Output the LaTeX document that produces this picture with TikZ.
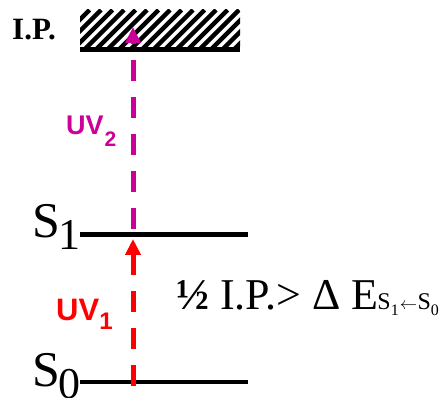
\documentclass[tikz,border=0pt]{standalone}
\usepackage{fontspec}
\setmainfont{Liberation Serif}
\newfontfamily\uvfont{Liberation Sans}
\usetikzlibrary{arrows.meta}
\definecolor{uvred}{RGB}{255,0,0}
\definecolor{uvmag}{RGB}{204,0,153}
\tikzset{
  level/.style={line width=4.5pt},
  uvarrow/.style={line width=5pt, dash pattern=on 21pt off 16pt,
    -{Triangle[width=15pt,length=16pt]}},
  txt/.style={inner sep=0pt, anchor=base west},
  hatchline/.style={line width=4.5pt}
}
\begin{document}
\begin{tikzpicture}[x=1pt,y=-1pt]
\useasboundingbox (0,0) rectangle (445,398);
% coordinates
\coordinate (ipL) at (80,49.5);
\coordinate (ipR) at (240,49.5);
\coordinate (s1L) at (80,234.5);
\coordinate (s1R) at (248,234.5);
\coordinate (s0L) at (80,382);
\coordinate (s0R) at (248,382);
\coordinate (redA) at (133,386);
\coordinate (redB) at (133,239);
\coordinate (magA) at (133,229);
\coordinate (magB) at (133,27);
% hatch
\begin{scope}
\clip (80,10) rectangle (240,47);
\foreach \i in {0,...,20} {
  \draw[hatchline] ({38+\i*11.5},50) -- ({78+\i*11.5},10);
}
\end{scope}
% levels
\draw[level] (ipL) -- (ipR);
\draw[level] (s1L) -- (s1R);
\draw[level] (s0L) -- (s0R);
% arrows
\draw[uvarrow, uvred] (redA) -- (redB);
\draw[uvarrow, uvmag] (magA) -- (magB);
% labels
\node[txt] (iplab) at (12,40) {\fontsize{31}{31}\selectfont\bfseries I.P.};
\node[txt] (s1lab) at (32,238) {\fontsize{50}{50}\selectfont S\kern-2pt\raisebox{-12pt}{\fontsize{44}{44}\selectfont 1}};
\node[txt] (s0lab) at (32,387) {\fontsize{50}{50}\selectfont S\kern-2pt\raisebox{-12pt}{\fontsize{44}{44}\selectfont 0}};
\node[txt, text=uvmag] (uv2) at (66,135) {\uvfont\bfseries\fontsize{27}{27}\selectfont UV\kern1pt\raisebox{-12pt}{\fontsize{21}{21}\selectfont 2}};
\node[txt, text=uvred] (uv1) at (56,321) {\uvfont\bfseries\fontsize{31}{31}\selectfont UV\kern0pt\raisebox{-9pt}{\fontsize{24}{24}\selectfont 1}};
\node[txt] (eq) at (176,310) {\fontsize{44}{44}\selectfont\textbf{½} I.P.> Δ E\kern-1pt\fontsize{24}{24}\selectfont S\raisebox{-6pt}{\fontsize{16}{16}\selectfont 1}\kern1pt{\fontsize{19}{19}\selectfont$\leftarrow$}\kern0.5pt S\raisebox{-6pt}{\fontsize{16}{16}\selectfont 0}};
\end{tikzpicture}
\end{document}
